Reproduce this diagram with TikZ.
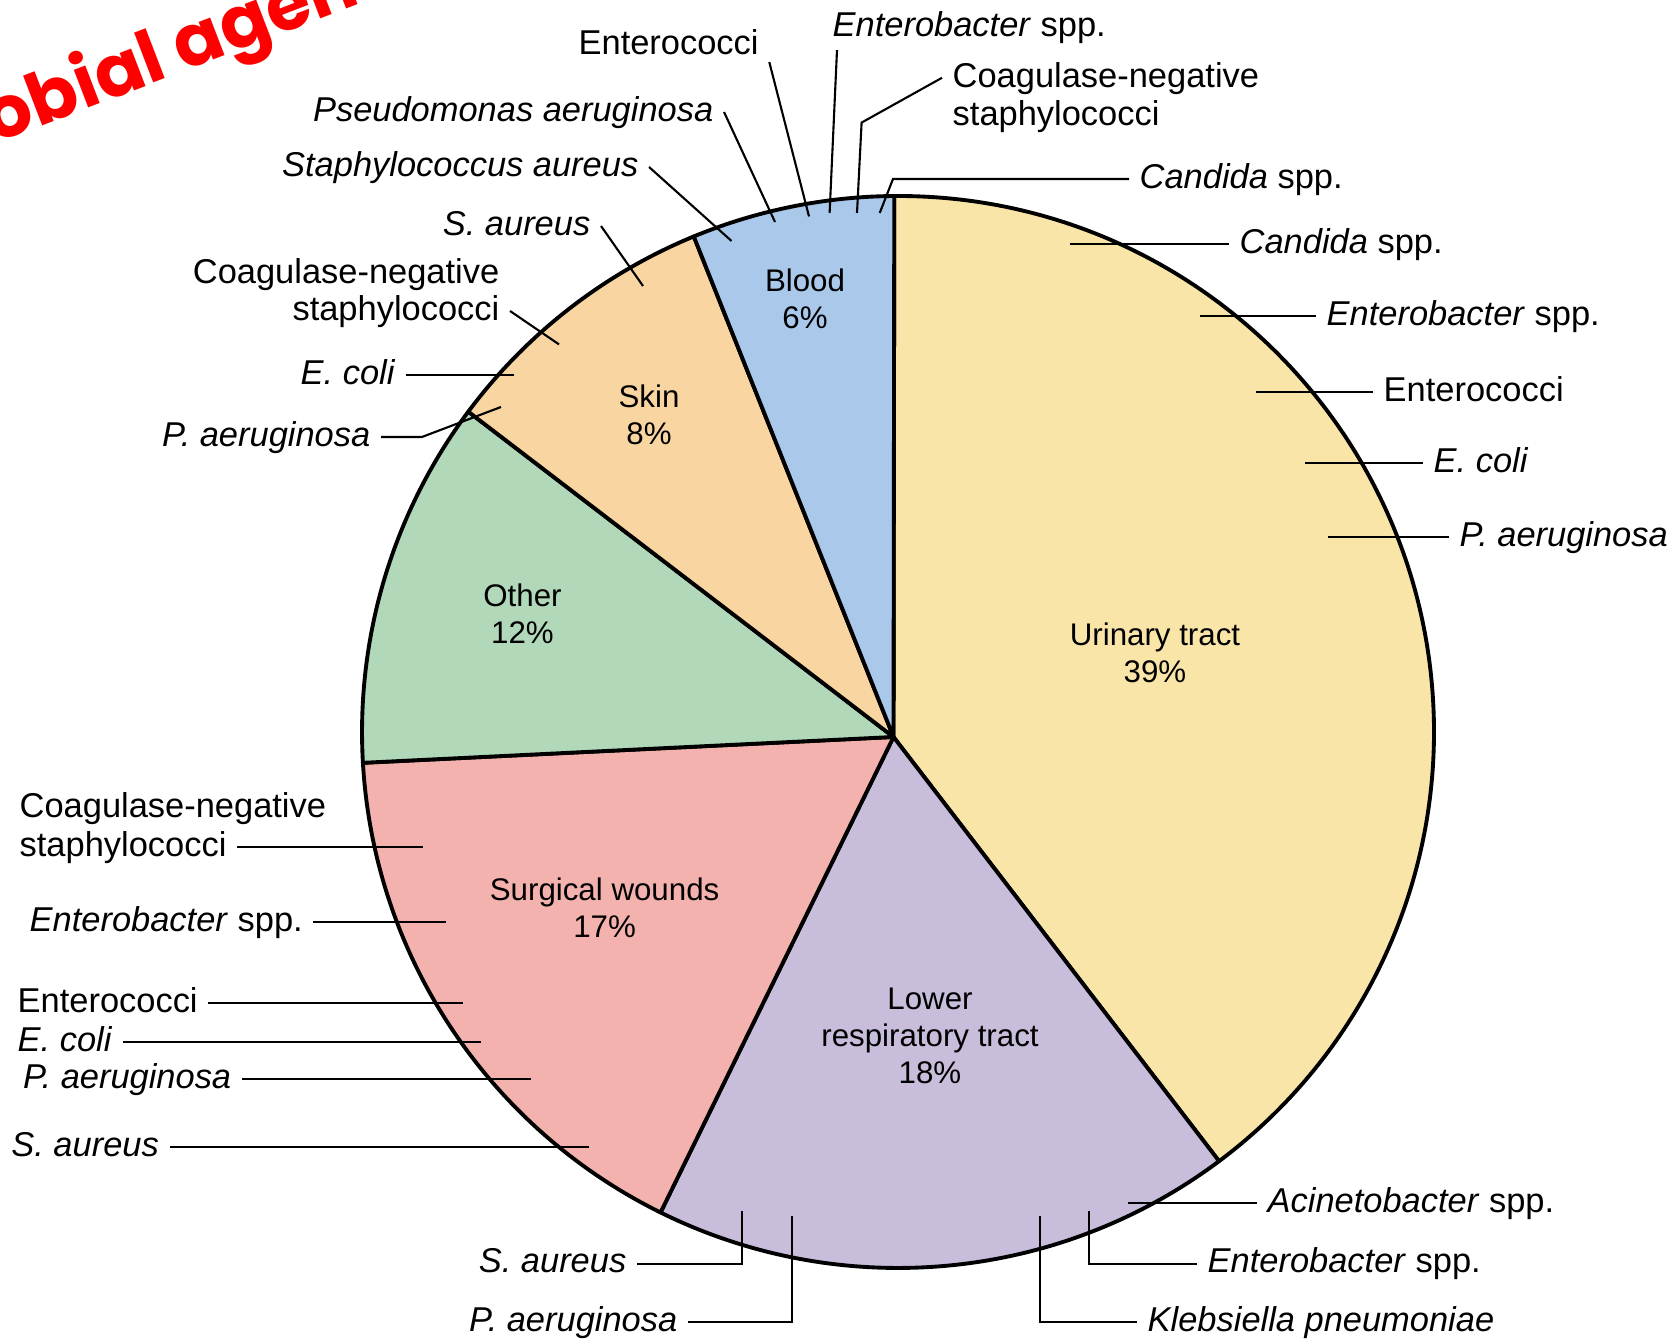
\documentclass[tikz,border=0pt]{standalone}
\usepackage{fontspec}
\setmainfont{Liberation Sans}
\newfontfamily\stampfont{Poppins}
\usepackage{tikz}
\usetikzlibrary{positioning,calc}
\definecolor{urinary}{HTML}{FAE5A9}
\definecolor{lowresp}{HTML}{C8BDDA}
\definecolor{surgical}{HTML}{F4B2AE}
\definecolor{other}{HTML}{B1D8B9}
\definecolor{skin}{HTML}{F9D5A1}
\definecolor{blood}{HTML}{A9C8EA}

\begin{document}
\begin{tikzpicture}[
  slice/.style={draw=black,line width=1.1pt,line join=round},
  callout/.style={line width=0.6pt},
  lbl/.style={font=\fontsize{9.8}{10.6}\selectfont,inner xsep=0.1cm,inner ysep=0.06cm},
  sitename/.style={font=\fontsize{8.9}{10.6}\selectfont,align=center},
  stamp/.style={font=\stampfont\bfseries\fontsize{20.5}{22}\selectfont,text=red,inner sep=0pt}
]
\useasboundingbox (0,0) rectangle (16.72,13.40);

% pie
\coordinate (O) at (8.935,6.03);
\coordinate (C) at (8.98,6.08);
\filldraw[slice,fill=urinary] (O) -- ([shift={(90.4:5.36)}]C) arc[start angle=90.4,end angle=-53.2,radius=5.36] -- cycle;
\filldraw[slice,fill=lowresp] (O) -- ([shift={(-53.2:5.36)}]C) arc[start angle=-53.2,end angle=-116.3,radius=5.36] -- cycle;
\filldraw[slice,fill=surgical] (O) -- ([shift={(243.7:5.36)}]C) arc[start angle=243.7,end angle=183.3,radius=5.36] -- cycle;
\filldraw[slice,fill=other] (O) -- ([shift={(183.3:5.36)}]C) arc[start angle=183.3,end angle=143.3,radius=5.36] -- cycle;
\filldraw[slice,fill=skin] (O) -- ([shift={(143.3:5.36)}]C) arc[start angle=143.3,end angle=112.4,radius=5.36] -- cycle;
\filldraw[slice,fill=blood] (O) -- ([shift={(112.4:5.36)}]C) arc[start angle=112.4,end angle=90.4,radius=5.36] -- cycle;

\node[sitename] (blood) at (8.05,10.41) {Blood\\6\%};
\node[sitename] (skin) at (6.49,9.255) {Skin\\8\%};
\node[sitename] (other) at (5.225,7.26) {Other\\12\%};
\node[sitename] (urinary) at (11.55,6.87) {Urinary tract\\39\%};
\node[sitename] (surgical) at (6.046,4.325) {Surgical wounds\\17\%};
\node[sitename] (lowresp) at (9.30,3.04) {Lower\\respiratory tract\\18\%};

% blood
\node[lbl] (bEnt) at (6.686,12.973) {Enterococci};
\node[lbl,anchor=mid west] (bEnb) at (8.22,13.13) {\textit{Enterobacter} spp.};
\node[lbl,anchor=mid west] (bCoag) at (9.42,12.622) {Coagulase-negative};
\node[lbl,anchor=mid west] (bStaph) at (9.42,12.24) {staphylococci};
\node[lbl,anchor=mid west] (bCan) at (11.29,11.61) {\textit{Candida} spp.};
\node[lbl,anchor=mid east] (bPse) at (7.24,12.28) {\textit{Pseudomonas aeruginosa}};
\node[lbl,anchor=mid east] (bSau) at (6.49,11.73) {\textit{Staphylococcus aureus}};
\coordinate (bEnt-in) at (8.09,11.235);
\coordinate (bEnb-in) at (8.296,11.27);
\coordinate (bCoag-in) at (8.57,11.27);
\coordinate (bCan-in) at (8.797,11.27);
\coordinate (bPse-in) at (7.75,11.18);
\coordinate (bSau-in) at (7.315,10.99);
\draw[callout] (bEnt.south east) -- (bEnt-in);
\draw[callout] ([xshift=0.15cm]bEnb.south west) -- (bEnb-in);
\draw[callout] (bCoag.mid west) -- ++(-0.804,-0.448) -- (bCoag-in);
\draw[callout] (bCan.mid west) -- ++(-2.36,0) -- (bCan-in);
\draw[callout] (bPse.mid east) -- (bPse-in);
\draw[callout] (bSau.mid east) -- (bSau-in);

% skin
\node[lbl,anchor=mid east] (sSau) at (6.01,11.14) {\textit{S. aureus}};
\node[lbl,anchor=mid east] (sCoag) at (5.10,10.66) {Coagulase-negative};
\node[lbl,anchor=mid east] (sStaph) at (5.10,10.29) {staphylococci};
\node[lbl,anchor=mid east] (sEco) at (4.06,9.65) {\textit{E. coli}};
\node[lbl,anchor=mid east] (sPae) at (3.81,9.03) {\textit{P. aeruginosa}};
\coordinate (sSau-in) at (6.43,10.54);
\coordinate (sStaph-in) at (5.59,9.956);
\coordinate (sEco-in) at (5.14,9.65);
\coordinate (sPae-in) at (5.01,9.33);
\draw[callout] (sSau.mid east) -- (sSau-in);
\draw[callout] (sStaph.mid east) -- (sStaph-in);
\draw[callout] (sEco.mid east) -- (sEco-in);
\draw[callout] (sPae.mid east) -- ++(0.41,0) -- (sPae-in);

% urinary tract
\node[lbl,anchor=mid west] (uCan) at (12.29,10.96) {\textit{Candida} spp.};
\node[lbl,anchor=mid west] (uEnb) at (13.16,10.24) {\textit{Enterobacter} spp.};
\node[lbl,anchor=mid west] (uEnt) at (13.73,9.48) {Enterococci};
\node[lbl,anchor=mid west] (uEco) at (14.23,8.77) {\textit{E. coli}};
\node[lbl,anchor=mid west] (uPae) at (14.49,8.03) {\textit{P. aeruginosa}};
\coordinate (uCan-in) at (10.695,10.96);
\coordinate (uEnb-in) at (12.00,10.24);
\coordinate (uEnt-in) at (12.56,9.48);
\coordinate (uEco-in) at (13.05,8.77);
\coordinate (uPae-in) at (13.275,8.03);
\draw[callout] (uCan.mid west) -- (uCan-in);
\draw[callout] (uEnb.mid west) -- (uEnb-in);
\draw[callout] (uEnt.mid west) -- (uEnt-in);
\draw[callout] (uEco.mid west) -- (uEco-in);
\draw[callout] (uPae.mid west) -- (uPae-in);

% surgical wounds
\node[lbl,anchor=mid west] (wCoag) at (0.09,5.32) {Coagulase-negative};
\node[lbl,anchor=mid west] (wStaph) at (0.09,4.93) {staphylococci};
\node[lbl,anchor=mid west] (wEnb) at (0.19,4.18) {\textit{Enterobacter} spp.};
\node[lbl,anchor=mid west] (wEnt) at (0.07,3.366) {Enterococci};
\node[lbl,anchor=mid west] (wEco) at (0.07,2.982) {\textit{E. coli}};
\node[lbl,anchor=mid west] (wPae) at (0.124,2.61) {\textit{P. aeruginosa}};
\node[lbl,anchor=mid west] (wSau) at (0.007,1.93) {\textit{S. aureus}};
\coordinate (wStaph-in) at (4.23,4.93);
\coordinate (wEnb-in) at (4.457,4.18);
\coordinate (wEnt-in) at (4.63,3.366);
\coordinate (wEco-in) at (4.81,2.982);
\coordinate (wPae-in) at (5.31,2.61);
\coordinate (wSau-in) at (5.886,1.93);
\draw[callout] (wStaph.mid east) -- (wStaph-in);
\draw[callout] (wEnb.mid east) -- (wEnb-in);
\draw[callout] (wEnt.mid east) -- (wEnt-in);
\draw[callout] (wEco.mid east) -- (wEco-in);
\draw[callout] (wPae.mid east) -- (wPae-in);
\draw[callout] (wSau.mid east) -- (wSau-in);

% lower respiratory tract
\node[lbl,anchor=mid east] (lSau) at (6.37,0.764) {\textit{S. aureus}};
\node[lbl,anchor=mid east] (lPae) at (6.88,0.18) {\textit{P. aeruginosa}};
\node[lbl,anchor=mid west] (lKle) at (11.37,0.18) {\textit{Klebsiella pneumoniae}};
\node[lbl,anchor=mid west] (lEnb) at (11.97,0.764) {\textit{Enterobacter} spp.};
\node[lbl,anchor=mid west] (lAci) at (12.57,1.372) {\textit{Acinetobacter} spp.};
\coordinate (lSau-in) at (7.42,1.29);
\coordinate (lPae-in) at (7.92,1.244);
\coordinate (lKle-in) at (10.396,1.244);
\coordinate (lEnb-in) at (10.887,1.29);
\coordinate (lAci-in) at (11.28,1.372);
\draw[callout] (lSau.mid east) -| (lSau-in);
\draw[callout] (lPae.mid east) -| (lPae-in);
\draw[callout] (lKle.mid west) -| (lKle-in);
\draw[callout] (lEnb.mid west) -| (lEnb-in);
\draw[callout] (lAci.mid west) -- (lAci-in);

% cut-off heading
\node[stamp,anchor=base west,rotate=21] (stamp) at (-0.05,11.96) {obial agen};
\end{tikzpicture}
\end{document}
